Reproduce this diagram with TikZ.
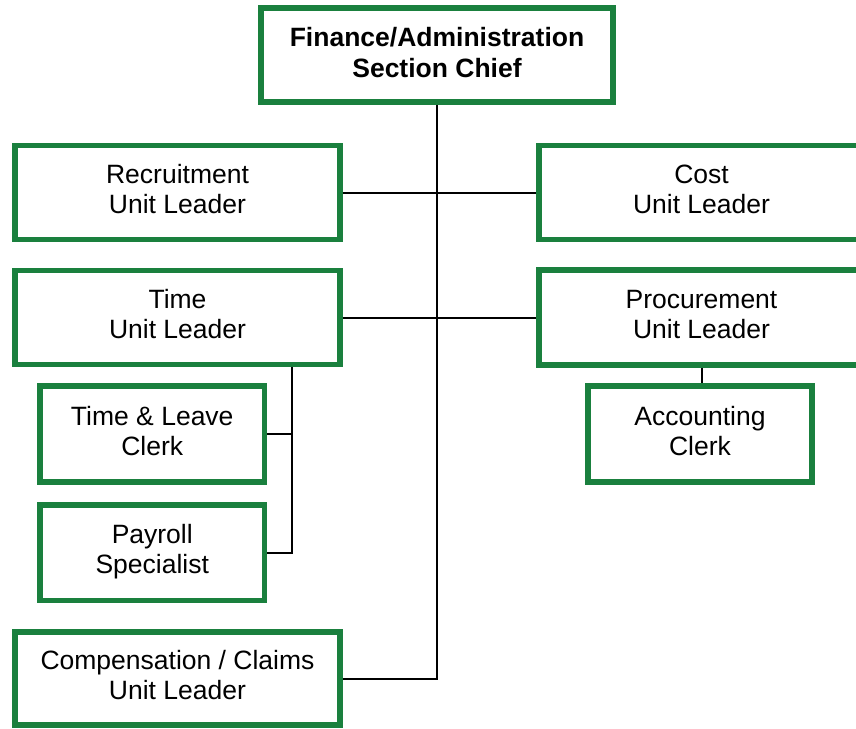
\documentclass[tikz,border=0pt]{standalone}
\usepackage{fontspec}
\setmainfont{Liberation Sans}
\definecolor{boxgreen}{RGB}{26,128,62}
\tikzset{
  orgbox/.style={draw=boxgreen, line width=5.5pt, fill=white, rectangle, align=center,
    inner sep=0pt, text height=49pt, text depth=7pt, font=\fontsize{26.5}{30}\selectfont},
  conn/.style={draw=black, line width=2pt}
}
\begin{document}
\begin{tikzpicture}[x=1pt,y=-1pt]
\useasboundingbox (0,0) rectangle (856,728);
\coordinate (tvx) at (292,0);
\node[orgbox, minimum width=352pt, minimum height=94pt, text height=50pt, text depth=6pt, font=\fontsize{26.5}{31}\selectfont\bfseries] (chief) at (437,55) {Finance/Administration\\Section Chief};
\node[orgbox, minimum width=325pt, minimum height=94pt] (recruit) at (177.5,192.5) {Recruitment\\Unit Leader};
\node[orgbox, minimum width=325pt, minimum height=94pt] (cost) at (701.5,192.5) {Cost\\Unit Leader};
\node[orgbox, minimum width=325pt, minimum height=94pt] (time) at (177.5,317.5) {Time\\Unit Leader};
\node[orgbox, minimum width=325pt, minimum height=95pt] (proc) at (701.5,317.5) {Procurement\\Unit Leader};
\node[orgbox, minimum width=224.5pt, minimum height=96pt] (tl) at (152.25,434) {Time \& Leave\\Clerk};
\node[orgbox, minimum width=224.5pt, minimum height=95.5pt] (pay) at (152.25,552.75) {Payroll\\Specialist};
\node[orgbox, minimum width=224pt, minimum height=96pt] (acct) at (700,434) {Accounting\\Clerk};
\node[orgbox, minimum width=325pt, minimum height=93pt] (comp) at (177.5,678.5) {Compensation / Claims\\Unit Leader};
\draw[conn] (chief.south) |- (comp.east);
\draw[conn] (recruit.east) -- (cost.west);
\draw[conn] (time.east) -- (proc.west);
\draw[conn] (proc.south) -- (proc.south |- acct.north);
\draw[conn] (time.south -| tvx) |- (pay.east);
\draw[conn] (tl.east) -- (tl.east -| tvx);
\end{tikzpicture}
\end{document}
